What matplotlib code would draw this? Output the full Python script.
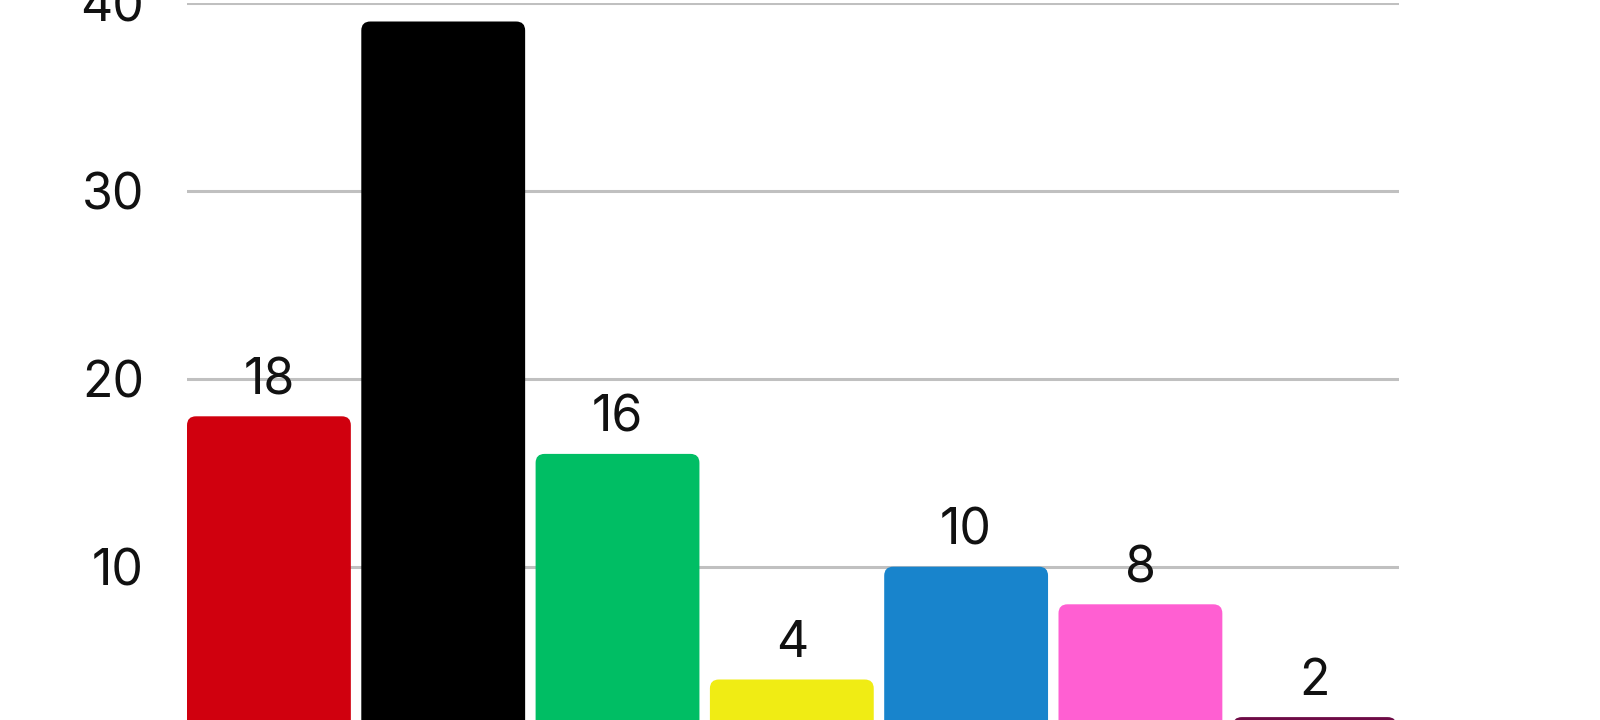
import matplotlib.pyplot as plt
from matplotlib.patches import FancyBboxPatch

parties = ['A', 'B', 'C', 'D', 'E', 'F', 'G']
seats = [18, 39, 16, 4, 10, 8, 2]
colors = ['#D0000E', '#000000', '#00BE64', '#F0EC14', '#1884CC', '#FF5FD2', '#6E0B46']
yticks = [10, 20, 30, 40]

plt.rcParams['font.family'] = ['Inter', 'DejaVu Sans']

fig = plt.figure(figsize=(16, 7.2), dpi=100)
# axes runs a little below the bottom edge, like the reference crop
ax = fig.add_axes([187 / 1600, -34.7 / 720, 1212 / 1600, 752 / 720])

width = 0.94
x = list(range(len(parties)))
ax.set_xlim(-width / 2, -width / 2 + 1212 / 174.3)
ax.set_ylim(0, 40)

# rounded bars: rounding in x-units, aspect fixes the y radius
px_x = 174.3
px_y = 752 / 40
r = 9 / px_x
for xi, v, c in zip(x, seats, colors):
    p = FancyBboxPatch((xi - width / 2, 0), width, v,
                       boxstyle=f'round,pad=0,rounding_size={r}',
                       mutation_aspect=px_x / px_y,
                       facecolor=c, edgecolor='none', zorder=3)
    ax.add_patch(p)
    ax.annotate(str(v), (xi, v), xytext=(0, 16), textcoords='offset points',
                ha='center', va='baseline', fontsize=36,
                color='#111111', zorder=4, annotation_clip=True, clip_on=True)

ax.set_yticks(yticks)
ax.set_yticklabels([str(t) for t in yticks])
ax.set_xticks([])
ax.tick_params(axis='y', length=0, pad=31, labelsize=36, labelcolor='#111111')
ax.yaxis.grid(True, color='#C0C0C0', linewidth=2.2)
ax.set_axisbelow(True)
for s in ax.spines.values():
    s.set_visible(False)

fig.savefig('out.png', dpi=100)
